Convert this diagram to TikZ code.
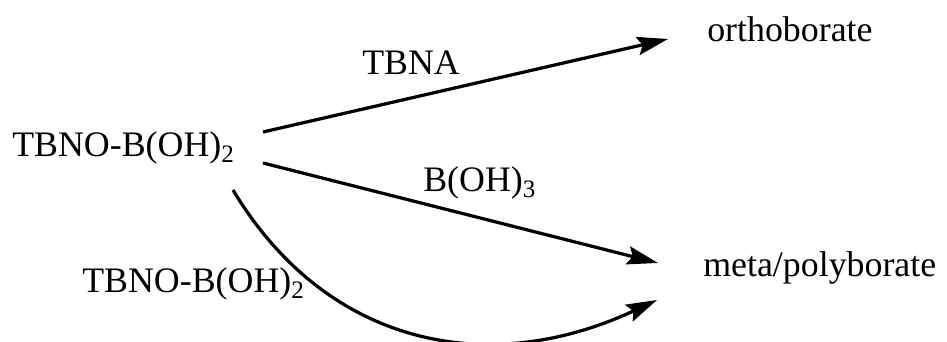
\documentclass[tikz,border=0pt]{standalone}
\usepackage{amsmath}
\usepackage{fontspec}
\setmainfont{Liberation Serif}
\usepackage{tikz}
\usetikzlibrary{arrows.meta}

\begin{document}
\begin{tikzpicture}[>={Stealth[length=22pt,width=13pt,inset=3.5pt]},
  every node/.style={inner sep=0pt, anchor=base west, font=\fontsize{25.5}{30}\selectfont},
  rxn/.style={->, line width=2.3pt}]
  \useasboundingbox (0,0) rectangle (23.675,8.55);

%\draw (0,0) rectangle (23.675,8.55);
\node (p0) at (0.3,4.625) {TBNO-B(OH)$_{\text{2}}$};
\node (p1) at (17.675,7.5) {orthoborate};
\node (p2) at (17.575,1.63) {meta/polyborate};

% ends of the arrows
\coordinate (p0_a) at (6.575,5.25);
\coordinate (p0_b) at (6.575,4.475);
\coordinate (p0_c) at (5.825,3.8);
\coordinate (p1_a) at (16.7,7.575);
\coordinate (p2_b) at (16.45,1.975);
\coordinate (p2_c) at (16.425,1.05);

\draw[rxn] (p0_a) -- (p1_a);
\node (p0_d) at (9.05,6.675) {TBNA};

\draw[rxn] (p0_b) -- (p2_b);
\node (p0_d) at (10.575,3.75) {B(OH)$_{\text{3}}$};

\draw[rxn] (p0_c) .. controls (8.14,-0.06) and (12.15,-0.945) .. (p2_c);
\node (p0_d) at (2.05,1.225) {TBNO-B(OH)$_{\text{2}}$};
\end{tikzpicture}
\end{document}
